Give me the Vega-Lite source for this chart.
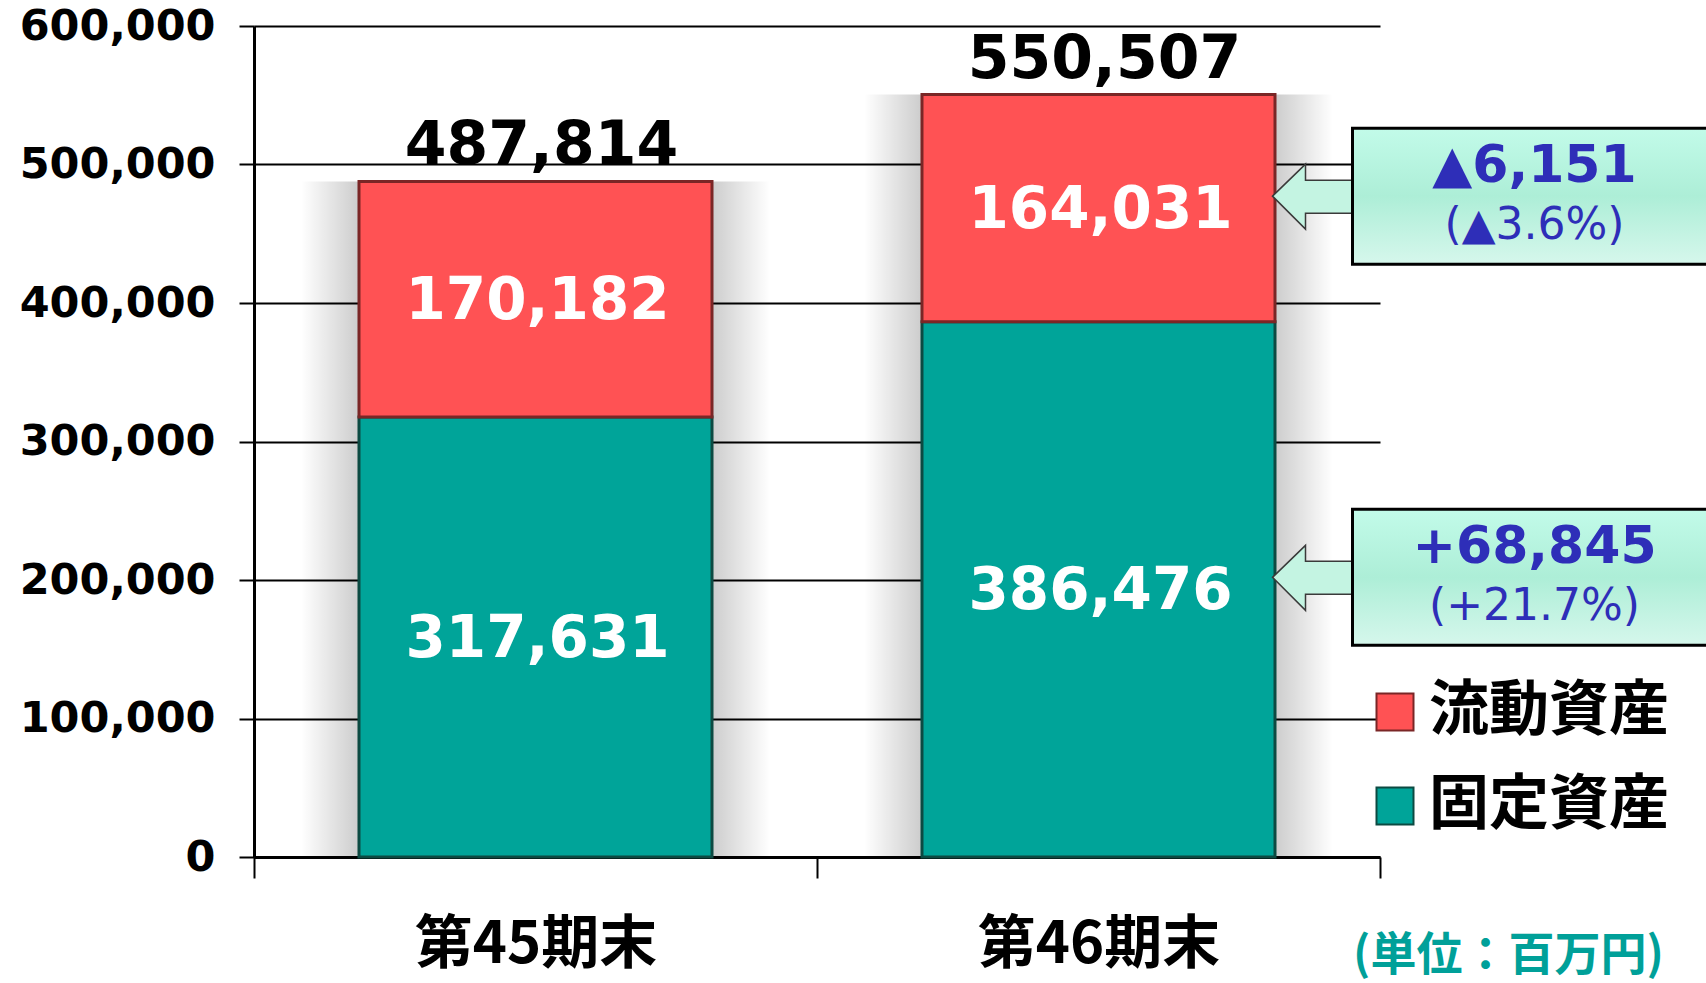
{
  "$schema": "https://vega.github.io/schema/vega-lite/v6.json",
  "width": 1126,
  "height": 831,
  "autosize": {"type": "none"},
  "padding": {"left": 254, "top": 26, "right": 326, "bottom": 126},
  "background": "white",
  "config": {
    "view": {"stroke": null},
    "axisY": {
      "grid": true, "gridColor": "#000000", "gridWidth": 2,
      "domainColor": "#000000", "domainWidth": 3,
      "tickColor": "#000000", "tickSize": 15, "tickWidth": 2,
      "labelFont": "DejaVu Sans", "labelFontWeight": "bold", "labelFontSize": 43,
      "labelColor": "#000000", "labelPadding": 24, "labelLimit": 400
    },
    "legend": {
      "labelFont": "Noto Sans CJK JP", "labelFontSize": 60, "labelFontWeight": "bold", "labelColor": "#000000",
      "labelLimit": 500,
      "symbolType": "square", "symbolSize": 1369, "symbolStrokeColor": "#3a3a3a", "symbolStrokeWidth": 2,
      "rowPadding": 34, "labelOffset": 4, "padding": 0
    }
  },
  "datasets": {
    "bars": [
      {"period": "第45期末", "kind": "固定資産", "value": 317631, "ord": 1},
      {"period": "第45期末", "kind": "流動資産", "value": 170182, "ord": 2},
      {"period": "第46期末", "kind": "固定資産", "value": 386476, "ord": 1},
      {"period": "第46期末", "kind": "流動資産", "value": 164031, "ord": 2}
    ],
    "totals": [
      {"period": "第45期末", "total": 487814},
      {"period": "第46期末", "total": 550507}
    ],
    "changes": [
      {"kind": "流動資産", "change": "▲6,151", "pct": "(▲3.6%)"},
      {"kind": "固定資産", "change": "+68,845", "pct": "(+21.7%)"}
    ]
  },
  "data": {"name": "bars"},
  "encoding": {
    "x": {
      "field": "period", "type": "nominal", "sort": ["第45期末", "第46期末"],
      "scale": {"paddingInner": 0, "paddingOuter": 0},
      "axis": {
        "labelAngle": 0, "grid": false, "labelLimit": 500,
        "domainColor": "#000000", "domainWidth": 3,
        "ticks": true, "tickBand": "extent", "tickSize": 21, "tickWidth": 2, "tickColor": "#000000",
        "labelFont": "Noto Sans CJK JP", "labelFontWeight": "bold", "labelFontSize": 58, "labelColor": "#000000",
        "labelPadding": 67, "labelBaseline": "middle",
        "title": "(単位：百万円)", "titleFont": "Noto Sans CJK JP", "titleFontSize": 46, "titleFontWeight": "bold",
        "titleColor": "#00a099", "titleX": 1254, "titleY": 98, "titleAlign": "center", "titleBaseline": "middle"
      }
    }
  },
  "layer": [
    {
      "mark": {
        "type": "bar", "width": {"band": 0.833},
        "fill": {
          "gradient": "linear", "x1": 0, "y1": 0, "x2": 1, "y2": 0,
          "stops": [
            {"offset": 0, "color": "rgba(0,0,0,0)"},
            {"offset": 0.124, "color": "rgba(0,0,0,0.2)"},
            {"offset": 0.876, "color": "rgba(0,0,0,0.2)"},
            {"offset": 1, "color": "rgba(0,0,0,0)"}
          ]
        }
      },
      "encoding": {
        "y": {"aggregate": "sum", "field": "value", "type": "quantitative", "title": null,
              "scale": {"domain": [0, 600000], "nice": false},
              "axis": {"values": [0, 100000, 200000, 300000, 400000, 500000, 600000], "format": ",d"}}
      }
    },
    {
      "mark": {"type": "bar", "width": {"band": 0.627}, "strokeWidth": 3},
      "encoding": {
        "y": {"field": "value", "type": "quantitative", "stack": "zero", "title": null,
              "scale": {"domain": [0, 600000], "nice": false},
              "axis": {"values": [0, 100000, 200000, 300000, 400000, 500000, 600000], "format": ",d"}},
        "color": {
          "field": "kind", "type": "nominal",
          "scale": {"domain": ["流動資産", "固定資産"], "range": ["#ff5254", "#00a499"]},
          "legend": {"orient": "none", "legendX": 1111, "legendY": 656, "title": null}
        },
        "stroke": {
          "field": "kind", "type": "nominal",
          "scale": {"domain": ["流動資産", "固定資産"], "range": ["#7a2626", "#0c4a42"]},
          "legend": null
        },
        "order": {"field": "ord", "type": "quantitative"}
      }
    },
    {
      "data": {"name": "totals"},
      "mark": {"type": "text", "font": "DejaVu Sans", "fontWeight": "bold", "fontSize": 60, "color": "#000000", "baseline": "alphabetic", "dy": -17, "dx": 6},
      "encoding": {
        "y": {"field": "total", "type": "quantitative", "title": null,
              "scale": {"domain": [0, 600000], "nice": false},
              "axis": {"values": [0, 100000, 200000, 300000, 400000, 500000, 600000], "format": ",d"}},
        "text": {"field": "total", "type": "quantitative", "format": ","}
      }
    },
    {
      "transform": [
        {"stack": "value", "groupby": ["period"], "sort": [{"field": "ord"}], "as": ["v0", "v1"]},
        {"calculate": "(datum.v0 + datum.v1) / 2", "as": "mid"}
      ],
      "encoding": {
        "y": {"field": "mid", "type": "quantitative", "title": null,
              "scale": {"domain": [0, 600000], "nice": false},
              "axis": {"values": [0, 100000, 200000, 300000, 400000, 500000, 600000], "format": ",d"}}
      },
      "layer": [
        {
          "mark": {"type": "text", "font": "DejaVu Sans", "fontWeight": "bold", "fontSize": 58, "color": "#ffffff", "baseline": "middle", "dx": 2, "dy": 3},
          "encoding": {"text": {"field": "value", "type": "quantitative", "format": ","}}
        },
        {
          "transform": [
            {"filter": "datum.period === '第46期末'"},
            {"lookup": "kind", "from": {"data": {"name": "changes"}, "key": "kind", "fields": ["change", "pct"]}}
          ],
          "layer": [
            {
              "mark": {
                "type": "point", "size": 4, "filled": true, "opacity": 1,
                "shape": "M174,-12 L207,-44 L207,-28 L258,-28 L258,5 L207,5 L207,21 Z",
                "fill": "#c4f4e2", "stroke": "#3a3a3a", "strokeWidth": 1.5
              }
            },
            {
              "mark": {
                "type": "point", "size": 4, "filled": true, "opacity": 1,
                "shape": "M254,-80 L660,-80 L660,56 L254,56 Z",
                "fill": {
                  "gradient": "linear", "x1": 0, "y1": 0, "x2": 0, "y2": 1,
                  "stops": [
                    {"offset": 0, "color": "#c2fbe9"},
                    {"offset": 0.5, "color": "#adeed7"},
                    {"offset": 1, "color": "#d6f7ec"}
                  ]
                },
                "stroke": "#000000", "strokeWidth": 3
              }
            },
            {
              "mark": {"type": "text", "font": "DejaVu Sans", "fontWeight": "bold", "fontSize": 52, "color": "#2e2eb8", "baseline": "middle", "dx": 436, "dy": -42},
              "encoding": {"text": {"field": "change", "type": "nominal"}}
            },
            {
              "mark": {"type": "text", "font": "DejaVu Sans", "fontSize": 44, "color": "#2e2eb8", "baseline": "middle", "dx": 436, "dy": 18},
              "encoding": {"text": {"field": "pct", "type": "nominal"}}
            }
          ]
        }
      ]
    }
  ]
}
